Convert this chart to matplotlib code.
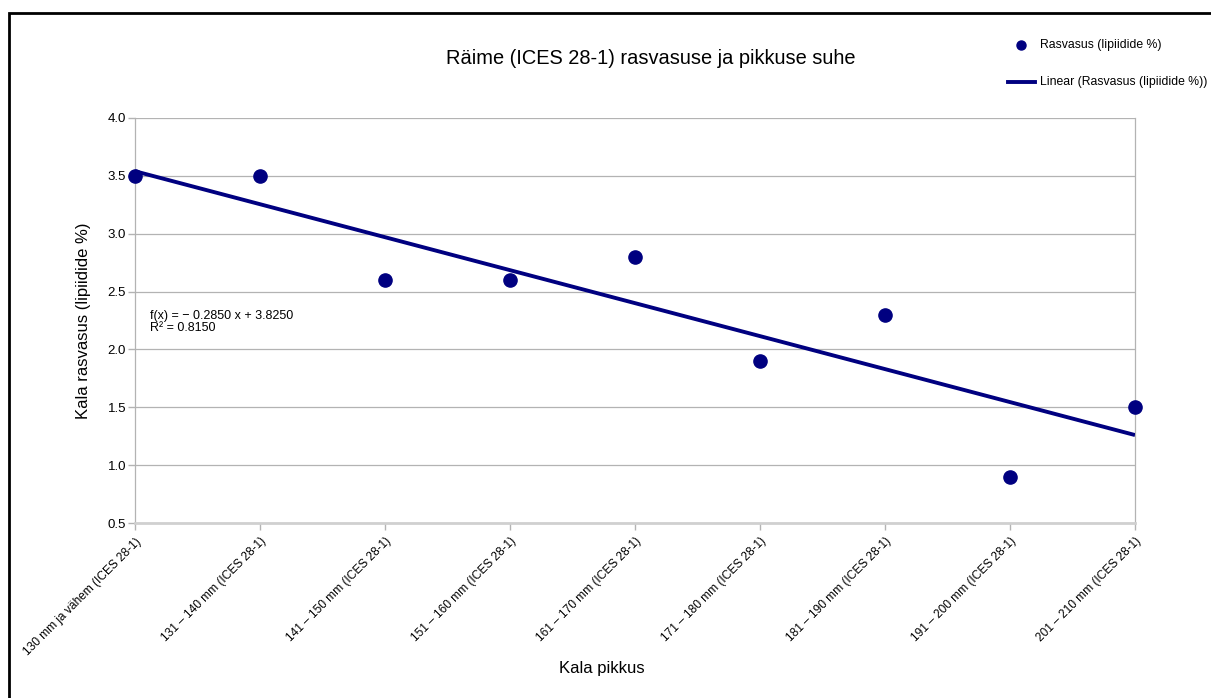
import numpy as np
import matplotlib
matplotlib.use("Agg")
import matplotlib.pyplot as plt
from matplotlib.lines import Line2D
from matplotlib.patches import Rectangle

plt.rcParams['font.family'] = ['Liberation Sans', 'DejaVu Sans']

# Length classes and measured fat content
length_classes = [
    "130 mm ja vähem (ICES 28-1)",
    "131 – 140 mm (ICES 28-1)",
    "141 – 150 mm (ICES 28-1)",
    "151 – 160 mm (ICES 28-1)",
    "161 – 170 mm (ICES 28-1)",
    "171 – 180 mm (ICES 28-1)",
    "181 – 190 mm (ICES 28-1)",
    "191 – 200 mm (ICES 28-1)",
    "201 – 210 mm (ICES 28-1)",
]
fat_pct = [3.5, 3.5, 2.6, 2.6, 2.8, 1.9, 2.3, 0.9, 1.5]
y_ticks = [0.5, 1.0, 1.5, 2.0, 2.5, 3.0, 3.5, 4.0]

navy = "#000080"
grid_gray = "#b3b3b3"
W, H = 1211, 698

x = np.arange(1, len(fat_pct) + 1)
y = np.array(fat_pct)

# Linear trend line
slope, intercept = np.polyfit(x, y, 1)
pred = slope * x + intercept
r2 = 1 - np.sum((y - pred) ** 2) / np.sum((y - y.mean()) ** 2)

fig = plt.figure(figsize=(W / 100, H / 100), dpi=100)
ax = fig.add_axes([135 / W, 1 - 523 / H, 1000 / W, 405 / H])

ax.set_xlim(1, 9)
ax.set_ylim(0.5, 4.0)
ax.set_yticks(y_ticks)
ax.set_yticklabels([f"{v:.1f}" for v in y_ticks], fontsize=9.5)
ax.set_xticks(x)
ax.set_xticklabels(length_classes, rotation=45, ha="right", va="top",
                   rotation_mode="anchor", fontsize=8.6)
ax.tick_params(axis="both", color=grid_gray, length=5, width=1)
ax.tick_params(axis="y", pad=1.5)
ax.tick_params(axis="x", pad=4)
ax.grid(axis="y", color=grid_gray, linewidth=0.9)
ax.set_axisbelow(True)
for side in ("left", "right", "bottom"):
    ax.spines[side].set_color(grid_gray)
    ax.spines[side].set_linewidth(0.9)
ax.spines["top"].set_visible(False)
ax.spines["bottom"].set_color("#d0d0d0")
ax.spines["bottom"].set_linewidth(2)

xl = np.array([1, 9])
ax.plot(xl, slope * xl + intercept, color=navy, linewidth=2.8,
        solid_capstyle="butt", zorder=3)
ax.plot(x, y, "o", color=navy, markersize=9.5, linestyle="none",
        clip_on=False, zorder=4)

ax.text(1.12, 2.345, f"f(x) = − {abs(slope):.4f} x + {intercept:.4f}\nR² = {r2:.4f}",
        fontsize=9, linespacing=1.05, va="top", ha="left")

ax.set_ylabel("Kala rasvasus (lipiidide %)", fontsize=12, labelpad=12)
fig.text(602 / W, 1 - 668 / H, "Kala pikkus", fontsize=12, ha="center", va="center")
fig.text(651 / W, 1 - 58 / H, "Räime (ICES 28-1) rasvasuse ja pikkuse suhe",
         fontsize=14.4, ha="center", va="center")

# Legend entries
fig.add_artist(Line2D([1021 / W], [1 - 45 / H], marker="o", color=navy,
                      markersize=6.5, linestyle="none", transform=fig.transFigure))
fig.text(1040 / W, 1 - 45 / H, "Rasvasus (lipiidide %)", fontsize=8.8, va="center")
fig.add_artist(Line2D([1008 / W, 1035 / W], [1 - 82 / H, 1 - 82 / H], color=navy,
                      linewidth=2.8, transform=fig.transFigure))
fig.text(1040 / W, 1 - 82 / H, "Linear (Rasvasus (lipiidide %))", fontsize=8.8, va="center")

# Outer frame
fig.add_artist(Rectangle((9 / W, -0.05), 1.2, 1 - 13 / H + 0.05, fill=False,
                         edgecolor="black", linewidth=2, transform=fig.transFigure))

fig.savefig("out.png", dpi=100)
